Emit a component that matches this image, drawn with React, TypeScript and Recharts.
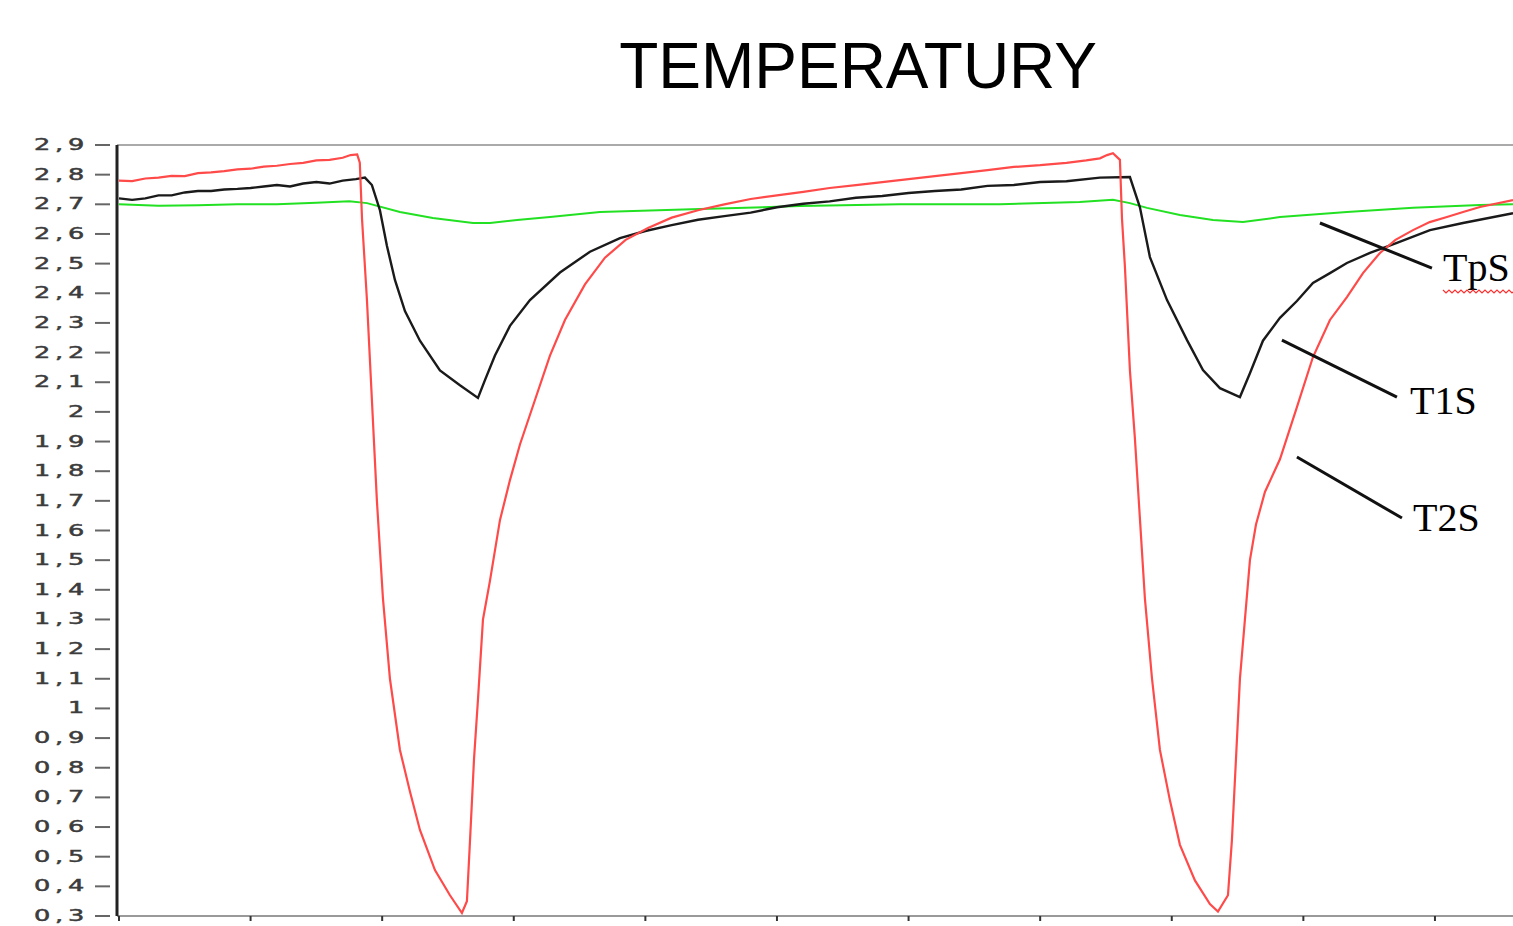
import React from 'react';
import { LineChart, Line, XAxis, YAxis, ReferenceLine } from 'recharts';

// axis ticks
const yTicks = [0.3, 0.4, 0.5, 0.6, 0.7, 0.8, 0.9, 1, 1.1, 1.2, 1.3, 1.4, 1.5, 1.6, 1.7, 1.8, 1.9, 2, 2.1, 2.2, 2.3, 2.4, 2.5, 2.6, 2.7, 2.8, 2.9];
const xTicks = [0, 10, 20, 30, 40, 50, 60, 70, 80, 90, 100];

// T2S (red)
const t2sX = [0, 1, 2, 3, 4, 5, 6, 7, 8, 9, 10, 11, 12, 13, 14, 15, 16, 17, 17.6, 18.1, 18.3, 18.47, 18.84, 19.22, 19.6, 20.06, 20.59, 21.35, 22.11, 22.87, 24.01, 25.15, 26.06, 26.44, 26.67, 26.98, 27.28, 27.66, 28.19, 28.95, 29.71, 30.47, 31.61, 32.75, 33.89, 35.41, 36.93, 38.5, 40.2, 42, 44, 46, 48, 50, 52, 54, 56, 58, 60, 62, 64, 66, 68, 70, 72, 73.5, 74.54, 75.08, 75.53, 76.06, 76.22, 76.44, 76.82, 77.2, 77.58, 77.96, 78.5, 79.1, 79.86, 80.62, 81.76, 82.9, 83.51, 84.27, 84.57, 84.88, 85.18, 85.56, 85.94, 86.4, 87.08, 88.22, 89.51, 90.73, 92.02, 93.31, 94.53, 95.82, 97, 98.33, 99.6, 100.91, 102.2, 103.42, 105.93];
const t2sY = [2.78, 2.778, 2.787, 2.79, 2.796, 2.795, 2.805, 2.808, 2.812, 2.818, 2.82, 2.827, 2.83, 2.836, 2.84, 2.848, 2.85, 2.857, 2.866, 2.868, 2.84, 2.65, 2.38, 2.04, 1.7, 1.37, 1.1, 0.86, 0.72, 0.59, 0.455, 0.37, 0.31, 0.35, 0.55, 0.83, 1.03, 1.3, 1.43, 1.635, 1.77, 1.89, 2.04, 2.19, 2.31, 2.43, 2.52, 2.58, 2.62, 2.655, 2.68, 2.7, 2.718, 2.73, 2.742, 2.755, 2.765, 2.775, 2.785, 2.795, 2.805, 2.815, 2.826, 2.832, 2.84, 2.848, 2.855, 2.866, 2.872, 2.85, 2.65, 2.49, 2.14, 1.91, 1.64, 1.37, 1.1, 0.86, 0.69, 0.54, 0.42, 0.34, 0.315, 0.37, 0.555, 0.83, 1.1, 1.3, 1.5, 1.62, 1.73, 1.84, 2.016, 2.185, 2.31, 2.387, 2.468, 2.536, 2.58, 2.613, 2.64, 2.657, 2.675, 2.691, 2.714];

// T1S (black)
const t1sX = [0, 1, 2, 3, 4, 5, 6, 7, 8, 9, 10, 11, 12, 13, 14, 15, 16, 17, 18, 18.69, 19.22, 19.83, 20.36, 20.97, 21.73, 22.87, 24.39, 25.91, 27.28, 27.81, 28.57, 29.71, 31.23, 33.51, 35.79, 38.07, 40, 42, 44, 46, 48, 50, 52, 54, 56, 58, 60, 62, 64, 66, 68, 70, 72, 74.54, 76.82, 77.58, 78.34, 79.64, 81.16, 82.37, 83.66, 85.18, 85.94, 86.93, 88.22, 89.51, 90.73, 92.02, 93.31, 95.06, 97.11, 99.62, 102.13, 105.93];
const t1sY = [2.72, 2.715, 2.72, 2.73, 2.73, 2.74, 2.745, 2.745, 2.75, 2.752, 2.755, 2.76, 2.765, 2.76, 2.77, 2.775, 2.77, 2.78, 2.785, 2.79, 2.765, 2.68, 2.56, 2.445, 2.34, 2.24, 2.14, 2.09, 2.047, 2.107, 2.19, 2.29, 2.377, 2.47, 2.54, 2.586, 2.61, 2.63, 2.648, 2.66, 2.672, 2.69, 2.702, 2.71, 2.722, 2.728, 2.738, 2.745, 2.75, 2.762, 2.765, 2.775, 2.778, 2.79, 2.792, 2.69, 2.522, 2.377, 2.242, 2.141, 2.08, 2.05, 2.13, 2.24, 2.317, 2.374, 2.435, 2.468, 2.502, 2.536, 2.57, 2.613, 2.637, 2.67];

// TpS (green)
const tpsX = [0, 3, 6, 9, 12, 15, 17.5, 18.85, 21.35, 23.85, 26.9, 28.2, 30.25, 32.75, 36.55, 44.15, 51.75, 59.35, 66.95, 73, 75.53, 76.82, 78.12, 80.62, 83.13, 85.41, 88.22, 93.31, 98.33, 103.42, 105.93];
const tpsY = [2.7, 2.695, 2.697, 2.7, 2.7, 2.705, 2.71, 2.704, 2.674, 2.654, 2.637, 2.637, 2.647, 2.657, 2.674, 2.684, 2.694, 2.7, 2.7, 2.708, 2.715, 2.704, 2.688, 2.664, 2.647, 2.64, 2.657, 2.674, 2.688, 2.698, 2.7];

const toPoints = (xs: number[], ys: number[]) => xs.map((x, i) => ({ x, y: ys[i] }));
const t2sData = toPoints(t2sX, t2sY);
const t1sData = toPoints(t1sX, t1sY);
const tpsData = toPoints(tpsX, tpsY);

const fmt = (v: number) =>
  Math.abs(v - Math.round(v)) < 1e-6 ? String(Math.round(v)) : v.toFixed(1).replace('.', ',');

const YTick = (props: any) => {
  const { x, y, payload } = props;
  return (
    <g>
      <line x1={x - 22} x2={x - 7} y1={y} y2={y} stroke="#666" strokeWidth={2} />
      <text
        transform={`translate(${x - 28},${y + 5}) scale(1.6,1)`}
        textAnchor="end"
        fontFamily="DejaVu Sans"
        fontSize={16}
        letterSpacing={3}
        fill="#3c3c3c"
        stroke="#3c3c3c"
        strokeWidth={0.5}
      >
        {fmt(payload.value)}
      </text>
    </g>
  );
};

const XTick = (props: any) => {
  const { x, y } = props;
  return <line x1={x} x2={x} y1={y} y2={y + 5} stroke="#333" strokeWidth={2} />;
};

const wave = () => {
  let d = 'M1443,290';
  for (let i = 1; i <= 24; i++) d += ` L${1443 + i * 3},${i % 2 ? 293 : 290}`;
  return d;
};

export default function App() {
  return (
    <div style={{ position: 'fixed', left: 0, top: 0, width: 1513, height: 926, background: '#fff' }}>
      <LineChart width={1513} height={926} margin={{ top: 145, right: 0, bottom: 0, left: 0 }}>
        <XAxis
          type="number"
          dataKey="x"
          domain={[-0.15, 105.93]}
          ticks={xTicks}
          interval={0}
          allowDataOverflow
          height={10}
          tickSize={0}
          tickMargin={0}
          tickLine={false}
          tick={<XTick />}
          axisLine={{ stroke: '#999', strokeWidth: 2 }}
        />
        <YAxis
          type="number"
          domain={[0.3, 2.9]}
          ticks={yTicks}
          interval={0}
          width={117}
          tickSize={0}
          tickMargin={0}
          tickLine={false}
          tick={<YTick />}
          axisLine={{ stroke: '#222', strokeWidth: 3 }}
        />
        <ReferenceLine y={2.9} stroke="#aaa" strokeWidth={2} />
        <Line data={tpsData} dataKey="y" type="linear" stroke="#22e022" strokeWidth={2} dot={false} isAnimationActive={false} />
        <Line data={t1sData} dataKey="y" type="linear" stroke="#1a1a1a" strokeWidth={2.4} dot={false} isAnimationActive={false} />
        <Line data={t2sData} dataKey="y" type="linear" stroke="#ff4a4a" strokeWidth={2.2} dot={false} isAnimationActive={false} />
        <ReferenceLine segment={[{ x: 91.26, y: 2.637 }, { x: 99.77, y: 2.485 }]} stroke="#111" strokeWidth={3} />
        <ReferenceLine segment={[{ x: 88.37, y: 2.242 }, { x: 97.11, y: 2.05 }]} stroke="#111" strokeWidth={3} />
        <ReferenceLine segment={[{ x: 89.51, y: 1.848 }, { x: 97.49, y: 1.642 }]} stroke="#111" strokeWidth={3} />
      </LineChart>
      <svg width={1513} height={926} style={{ position: 'absolute', left: 0, top: 0, pointerEvents: 'none' }}>
        <text x={858} y={88} textAnchor="middle" fontFamily="Liberation Sans" fontSize={64} fill="#000">
          TEMPERATURY
        </text>
        <text x={1443} y={281} fontFamily="Liberation Serif" fontSize={40} fill="#000">TpS</text>
        <path d={wave()} stroke="#ff3030" strokeWidth={1.2} fill="none" />
        <text x={1410} y={414} fontFamily="Liberation Serif" fontSize={40} fill="#000">T1S</text>
        <text x={1413} y={531} fontFamily="Liberation Serif" fontSize={40} fill="#000">T2S</text>
      </svg>
    </div>
  );
}
